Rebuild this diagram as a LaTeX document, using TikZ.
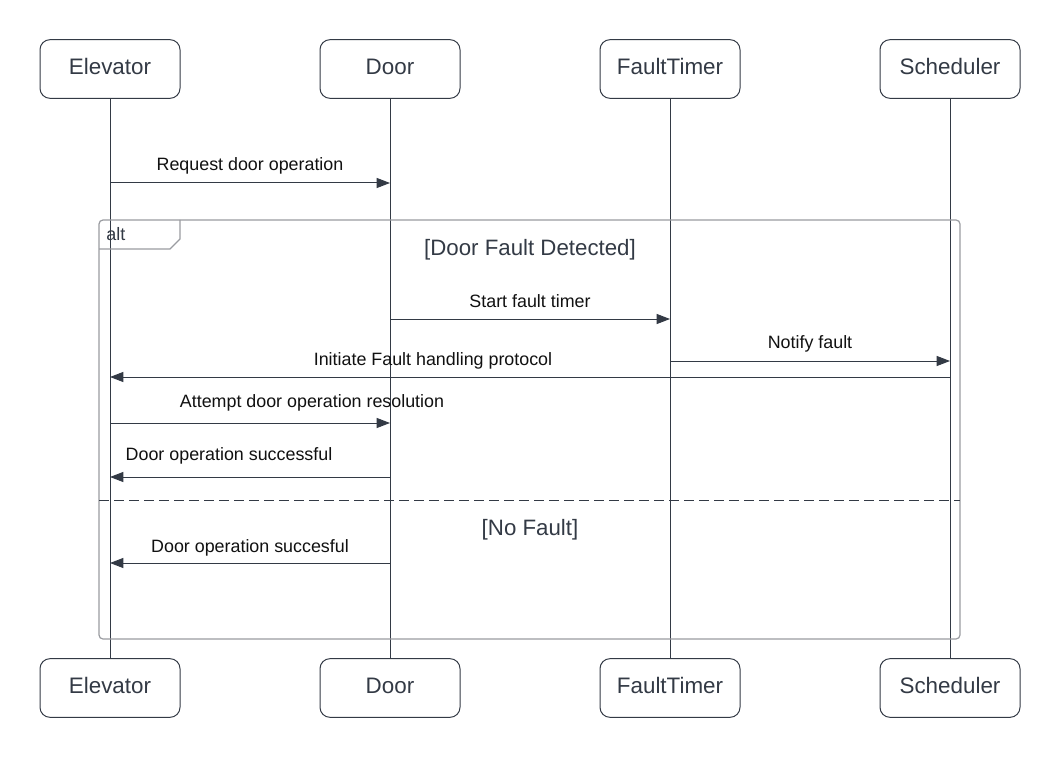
\documentclass[tikz,border=0pt]{standalone}
\usepackage{fontspec}
\setmainfont{Liberation Sans}
\usetikzlibrary{arrows.meta}
\definecolor{ink}{HTML}{333A45}
\definecolor{frame}{HTML}{9A9CA1}
\definecolor{txt}{HTML}{111111}
\begin{document}
\begin{tikzpicture}[x=0.75pt,y=-0.75pt,
  part/.style={draw=ink,line width=0.75pt,rounded corners=7.5pt,minimum width=105pt,minimum height=44pt,inner sep=0pt,text height=12pt,text depth=3.5pt,font=\fontsize{16.8}{18}\selectfont,text=ink},
  life/.style={draw=ink,line width=0.75pt},
  msg/.style={draw=ink,line width=0.75pt,-{Triangle[length=10pt,width=7.5pt]}},
  mlab/.style={font=\fontsize{13.4}{15}\selectfont,text=txt,inner sep=0pt,anchor=base},
  guard/.style={font=\fontsize{16.7}{18}\selectfont,text=ink,inner sep=0pt,anchor=base}]
\useasboundingbox[fill=white] (0,0) rectangle (1060,759);
% participants
\node[part] (e)  at (110,69) {Elevator};
\node[part] (d)  at (390,69) {Door};
\node[part] (f)  at (670,69) {FaultTimer};
\node[part] (s)  at (950,69) {Scheduler};
\node[part] (eb) at (110,688) {Elevator};
\node[part] (db) at (390,688) {Door};
\node[part] (fb) at (670,688) {FaultTimer};
\node[part] (sb) at (950,688) {Scheduler};
% lifelines
\draw[life] (e.south) -- (eb.north);
\draw[life] (d.south) -- (db.north);
\draw[life] (f.south) -- (fb.north);
\draw[life] (s.south) -- (sb.north);
% alt frame
\draw[draw=frame,line width=0.9pt,rounded corners=3pt] (99,220) rectangle (960,639);
\draw[draw=frame,line width=0.9pt] (180,220) -- (180,239) -- (170,249) -- (99,249);
\node[font=\fontsize{13.5}{14}\selectfont,text=ink,anchor=base west,inner sep=0pt] (alt) at (106,241) {alt};
\draw[draw=ink,line width=0.75pt,dash pattern=on 7.5pt off 3.75pt] (99,500) -- (960,500);
\node[guard] (g1) at (530,256) {[Door Fault Detected]};
\node[guard] (g2) at (530,535) {[No Fault]};
% messages
\draw[msg] (e.south |- 0,183) -- (d.south |- 0,183);
\node[mlab] (l1) at (250,171) {Request door operation};
\draw[msg] (d.south |- 0,319) -- (f.south |- 0,319);
\node[mlab] (l2) at (530,307) {Start fault timer};
\draw[msg] (f.south |- 0,361) -- (s.south |- 0,361);
\node[mlab] (l3) at (810,349) {Notify fault};
\draw[msg] (s.south |- 0,377) -- (e.south |- 0,377);
\node[mlab] (l4) at (433,365) {Initiate Fault handling protocol};
\draw[msg] (e.south |- 0,423) -- (d.south |- 0,423);
\node[mlab] (l5) at (312,407) {Attempt door operation resolution};
\draw[msg] (d.south |- 0,477) -- (e.south |- 0,477);
\node[mlab] (l6) at (229,460) {Door operation successful};
\draw[msg] (d.south |- 0,563) -- (e.south |- 0,563);
\node[mlab] (l7) at (250,552) {Door operation succesful};
\end{tikzpicture}
\end{document}
